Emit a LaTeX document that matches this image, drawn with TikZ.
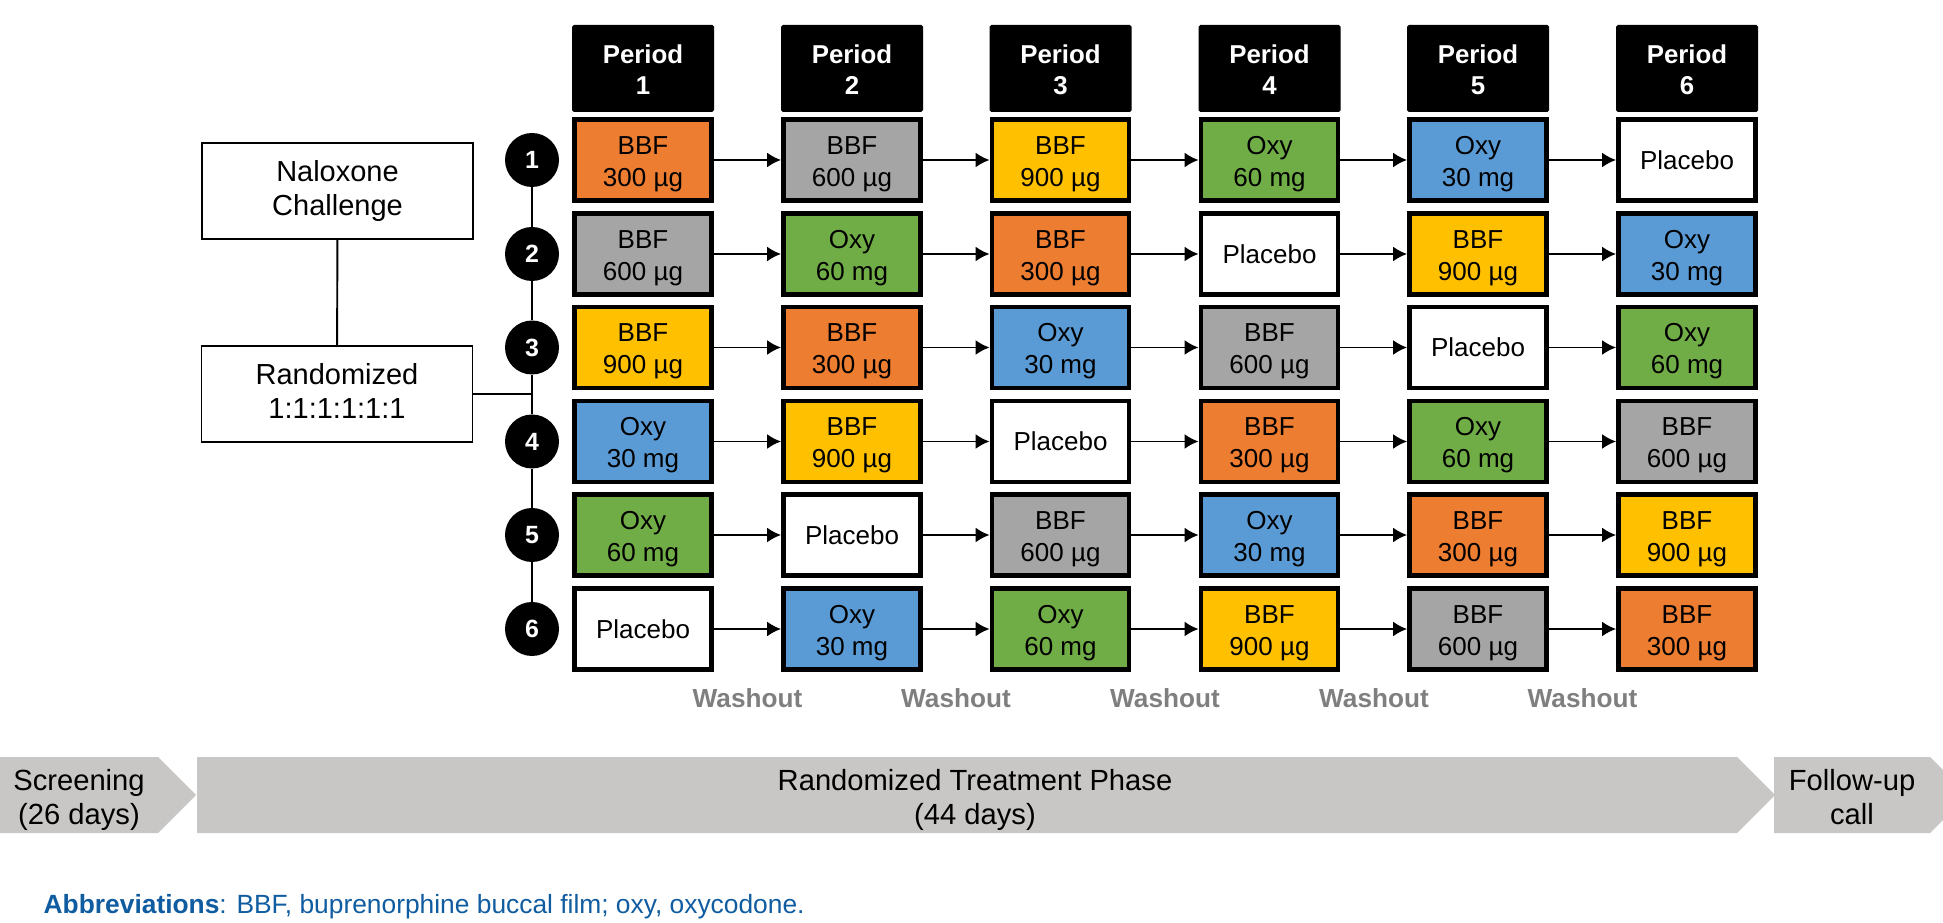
\documentclass[tikz,border=0pt]{standalone}
\usepackage{fontspec}
\setmainfont{Liberation Sans}
\usetikzlibrary{arrows.meta}

\definecolor{doseorange}{RGB}{237,125,49}
\definecolor{dosegray}{RGB}{165,165,165}
\definecolor{doseyellow}{RGB}{255,192,0}
\definecolor{dosegreen}{RGB}{112,173,71}
\definecolor{doseblue}{RGB}{91,155,213}
\definecolor{phasegray}{RGB}{200,199,197}
\definecolor{washgray}{RGB}{127,127,127}
\definecolor{abbrevblue}{RGB}{16,92,160}

\tikzset{>={Latex[length=2.8mm,width=3mm]}}

\begin{document}
\begin{tikzpicture}[scale=1]

	\tikzstyle{period} = [rectangle, rounded corners=1pt, fill=black, text=white, align=center, inner sep=0pt, text height=33pt, text depth=3.1pt, minimum width=2.84cm, minimum height=1.74cm, font=\bfseries\fontsize{14.7}{18}\selectfont]
	\tikzstyle{seq} = [circle, fill=black, text=white, inner sep=0pt, minimum size=1.08cm, font=\bfseries\fontsize{14.2}{17}\selectfont]
	\tikzstyle{dose} = [rectangle, draw=black, line width=2.8pt, align=center, inner sep=0pt, text height=33.2pt, text depth=3.1pt, minimum width=2.74cm, minimum height=1.62cm, font=\fontsize{14.8}{18.4}\selectfont]
	\tikzstyle{dose_orange} = [dose, fill=doseorange]
	\tikzstyle{dose_gray} = [dose, fill=dosegray]
	\tikzstyle{dose_yellow} = [dose, fill=doseyellow]
	\tikzstyle{dose_green} = [dose, fill=dosegreen]
	\tikzstyle{dose_blue} = [dose, fill=doseblue]
	\tikzstyle{dose_white} = [dose, fill=white, text height=10.8pt, text depth=0pt]
	\tikzstyle{stage} = [rectangle, draw=black, line width=1.1pt, align=center, text depth=3.5pt, minimum width=5.42cm, minimum height=1.92cm, font=\fontsize{16.5}{19.4}\selectfont]
	\tikzstyle{phase} = [align=center, text height=36.9pt, text depth=3.5pt, font=\fontsize{16.6}{19.4}\selectfont]
	\tikzstyle{washout} = [text=washgray, font=\bfseries\fontsize{14.9}{18}\selectfont]
	\tikzstyle{link} = [line width=1.1pt]
	\tikzstyle{move} = [->, line width=1.1pt]

	\useasboundingbox (0,0) rectangle (38.86,18.44);

%------------------------------------------------------------
	\node[period] (p1) at (12.86,17.07) {Period\\1};
	\node[period] (p2) at (17.04,17.07) {Period\\2};
	\node[period] (p3) at (21.21,17.07) {Period\\3};
	\node[period] (p4) at (25.39,17.07) {Period\\4};
	\node[period] (p5) at (29.56,17.07) {Period\\5};
	\node[period] (p6) at (33.74,17.07) {Period\\6};

%------------------------------------------------------------
	\node[stage] (nalox) at (6.75,14.62) {Naloxone\\Challenge};
	\node[stage] (rand) at (6.74,10.56) {Randomized\\1:1:1:1:1:1};

	\node[seq] (s1) at (10.64,15.24) {1};
	\node[seq] (s2) at (10.64,13.36) {2};
	\node[seq] (s3) at (10.64,11.49) {3};
	\node[seq] (s4) at (10.64,9.61) {4};
	\node[seq] (s5) at (10.64,7.74) {5};
	\node[seq] (s6) at (10.64,5.86) {6};

	\draw[link] (nalox) -- (rand);
	\draw[link] (rand.east) -- (rand.east -| s3.center);
	\draw[link] (s1) -- (s2) (s2) -- (s3) (s3) -- (s4) (s4) -- (s5) (s5) -- (s6);

%------------------------------------------------------------
	\node[dose_orange] (t11) at (12.86,15.24) {BBF\\300 µg};
	\node[dose_gray] (t12) at (17.04,15.24) {BBF\\600 µg};
	\node[dose_yellow] (t13) at (21.21,15.24) {BBF\\900 µg};
	\node[dose_green] (t14) at (25.39,15.24) {Oxy\\60 mg};
	\node[dose_blue] (t15) at (29.56,15.24) {Oxy\\30 mg};
	\node[dose_white] (t16) at (33.74,15.24) {Placebo};

%------------------------------------------------------------
	\node[dose_gray] (t21) at (12.86,13.36) {BBF\\600 µg};
	\node[dose_green] (t22) at (17.04,13.36) {Oxy\\60 mg};
	\node[dose_orange] (t23) at (21.21,13.36) {BBF\\300 µg};
	\node[dose_white] (t24) at (25.39,13.36) {Placebo};
	\node[dose_yellow] (t25) at (29.56,13.36) {BBF\\900 µg};
	\node[dose_blue] (t26) at (33.74,13.36) {Oxy\\30 mg};

%------------------------------------------------------------
	\node[dose_yellow] (t31) at (12.86,11.49) {BBF\\900 µg};
	\node[dose_orange] (t32) at (17.04,11.49) {BBF\\300 µg};
	\node[dose_blue] (t33) at (21.21,11.49) {Oxy\\30 mg};
	\node[dose_gray] (t34) at (25.39,11.49) {BBF\\600 µg};
	\node[dose_white] (t35) at (29.56,11.49) {Placebo};
	\node[dose_green] (t36) at (33.74,11.49) {Oxy\\60 mg};

%------------------------------------------------------------
	\node[dose_blue] (t41) at (12.86,9.61) {Oxy\\30 mg};
	\node[dose_yellow] (t42) at (17.04,9.61) {BBF\\900 µg};
	\node[dose_white] (t43) at (21.21,9.61) {Placebo};
	\node[dose_orange] (t44) at (25.39,9.61) {BBF\\300 µg};
	\node[dose_green] (t45) at (29.56,9.61) {Oxy\\60 mg};
	\node[dose_gray] (t46) at (33.74,9.61) {BBF\\600 µg};

%------------------------------------------------------------
	\node[dose_green] (t51) at (12.86,7.74) {Oxy\\60 mg};
	\node[dose_white] (t52) at (17.04,7.74) {Placebo};
	\node[dose_gray] (t53) at (21.21,7.74) {BBF\\600 µg};
	\node[dose_blue] (t54) at (25.39,7.74) {Oxy\\30 mg};
	\node[dose_orange] (t55) at (29.56,7.74) {BBF\\300 µg};
	\node[dose_yellow] (t56) at (33.74,7.74) {BBF\\900 µg};

%------------------------------------------------------------
	\node[dose_white] (t61) at (12.86,5.86) {Placebo};
	\node[dose_blue] (t62) at (17.04,5.86) {Oxy\\30 mg};
	\node[dose_green] (t63) at (21.21,5.86) {Oxy\\60 mg};
	\node[dose_yellow] (t64) at (25.39,5.86) {BBF\\900 µg};
	\node[dose_gray] (t65) at (29.56,5.86) {BBF\\600 µg};
	\node[dose_orange] (t66) at (33.74,5.86) {BBF\\300 µg};

%------------------------------------------------------------
	\draw[move] (t11) -- (t12); \draw[move] (t12) -- (t13); \draw[move] (t13) -- (t14); \draw[move] (t14) -- (t15); \draw[move] (t15) -- (t16);
	\draw[move] (t21) -- (t22); \draw[move] (t22) -- (t23); \draw[move] (t23) -- (t24); \draw[move] (t24) -- (t25); \draw[move] (t25) -- (t26);
	\draw[move] (t31) -- (t32); \draw[move] (t32) -- (t33); \draw[move] (t33) -- (t34); \draw[move] (t34) -- (t35); \draw[move] (t35) -- (t36);
	\draw[move] (t41) -- (t42); \draw[move] (t42) -- (t43); \draw[move] (t43) -- (t44); \draw[move] (t44) -- (t45); \draw[move] (t45) -- (t46);
	\draw[move] (t51) -- (t52); \draw[move] (t52) -- (t53); \draw[move] (t53) -- (t54); \draw[move] (t54) -- (t55); \draw[move] (t55) -- (t56);
	\draw[move] (t61) -- (t62); \draw[move] (t62) -- (t63); \draw[move] (t63) -- (t64); \draw[move] (t64) -- (t65); \draw[move] (t65) -- (t66);

%------------------------------------------------------------
	\node[washout] (w1) at (14.95,4.48) {Washout};
	\node[washout] (w2) at (19.12,4.48) {Washout};
	\node[washout] (w3) at (23.30,4.48) {Washout};
	\node[washout] (w4) at (27.48,4.48) {Washout};
	\node[washout] (w5) at (31.65,4.48) {Washout};

%------------------------------------------------------------
	\begin{scope}
		\clip (0,0) rectangle (38.86,18.44);
		\fill[phasegray] (0,3.3) -- (3.16,3.3) -- (3.92,2.54) -- (3.16,1.78) -- (0,1.78) -- cycle;
		\fill[phasegray] (3.94,3.3) -- (34.74,3.3) -- (35.5,2.54) -- (34.74,1.78) -- (3.94,1.78) -- cycle;
		\fill[phasegray] (35.48,3.3) -- (38.6,3.3) -- (39.36,2.54) -- (38.6,1.78) -- (35.48,1.78) -- cycle;
	\end{scope}

	\node[phase] (screen) at (1.58,2.54) {Screening\\(26 days)};
	\node[phase] (treat) at (19.5,2.54) {Randomized Treatment Phase\\(44 days)};
	\node[phase] (follow) at (37.04,2.54) {Follow-up\\call};

	\node[anchor=west, text=abbrevblue, font=\fontsize{15}{18}\selectfont] (abbrev) at (0.75,0.3) {\textbf{Abbreviations}: BBF, buprenorphine buccal film; oxy, oxycodone.};

\end{tikzpicture}
\end{document}
